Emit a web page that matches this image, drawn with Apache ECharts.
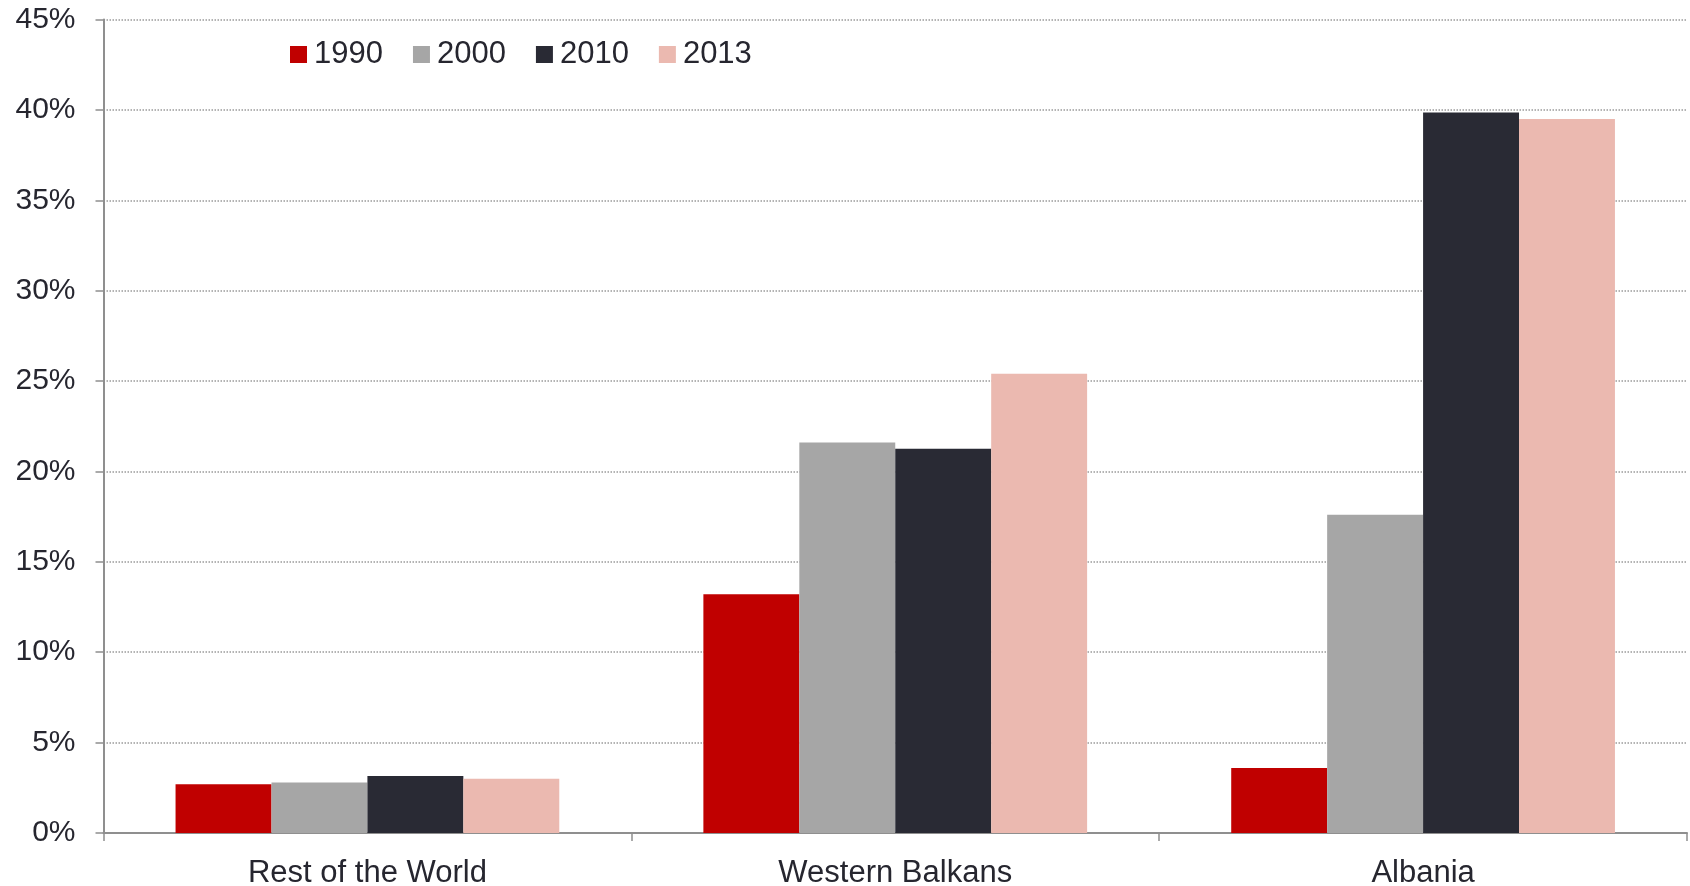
<!DOCTYPE html>
<html>
<head>
<meta charset="utf-8">
<title>Emigrant stock as share of population</title>
<script src="https://cdn.jsdelivr.net/npm/echarts@6/dist/echarts.min.js"></script>
<style>
  html, body { margin: 0; padding: 0; background: #ffffff; }
  #chart { width: 1690px; height: 886px; }
</style>
</head>
<body>
<div id="chart"></div>
<script>
// Regions on the category axis
const categories = ['Rest of the World', 'Western Balkans', 'Albania'];

// Years shown in the legend
const years = ['1990', '2000', '2010', '2013'];

// Share of population (%) per region, one array per year
const values1990 = [2.7, 13.2, 3.6];
const values2000 = [2.8, 21.6, 17.6];
const values2010 = [3.15, 21.25, 39.85];
const values2013 = [3.0, 25.4, 39.5];

// Y-axis range and step (%)
const yMin = 0;
const yMax = 45;
const yStep = 5;

const seriesValues = [values1990, values2000, values2010, values2013];
const colors = ['#C00000', '#A6A6A6', '#292A34', '#EBB9B0'];

const textColor = '#26262f';
const axisGray = '#8f8f8f';
const fontFamily = 'Liberation Sans, Arial, sans-serif';

const chart = echarts.init(document.getElementById('chart'), null, { renderer: 'canvas' });

chart.setOption({
  animation: false,
  backgroundColor: '#ffffff',
  color: colors,
  grid: {
    left: 103.5,
    right: 3,
    top: 19.5,
    bottom: 53,
    containLabel: false,
    outerBoundsMode: 'none'
  },
  legend: {
    data: years,
    left: 285,
    top: 34,
    itemWidth: 17,
    itemHeight: 17,
    itemGap: 30,
    icon: 'rect',
    textStyle: {
      color: textColor,
      fontSize: 31,
      fontFamily: fontFamily,
      padding: [0, 0, 0, 2]
    }
  },
  xAxis: {
    type: 'category',
    data: categories,
    boundaryGap: true,
    axisLine: { show: true, lineStyle: { color: axisGray, width: 2 } },
    axisTick: { show: true, length: 8, lineStyle: { color: axisGray, width: 1.5 } },
    axisLabel: {
      color: textColor,
      fontSize: 31,
      fontFamily: fontFamily,
      margin: 25
    },
    splitLine: { show: false }
  },
  yAxis: {
    type: 'value',
    min: yMin,
    max: yMax,
    interval: yStep,
    axisLine: { show: true, lineStyle: { color: axisGray, width: 2 } },
    axisTick: { show: true, length: 8, lineStyle: { color: axisGray, width: 1.5 } },
    axisLabel: {
      formatter: '{value}%',
      color: textColor,
      fontSize: 30,
      fontFamily: fontFamily,
      margin: 28
    },
    splitLine: {
      show: true,
      lineStyle: { color: '#9a9a9a', type: 'dotted', width: 1.5 }
    }
  },
  series: years.map((year, i) => ({
    name: year,
    type: 'bar',
    data: seriesValues[i],
    barGap: '0%',
    barCategoryGap: '27.3%',
    itemStyle: { color: colors[i] }
  }))
});
</script>
</body>
</html>
